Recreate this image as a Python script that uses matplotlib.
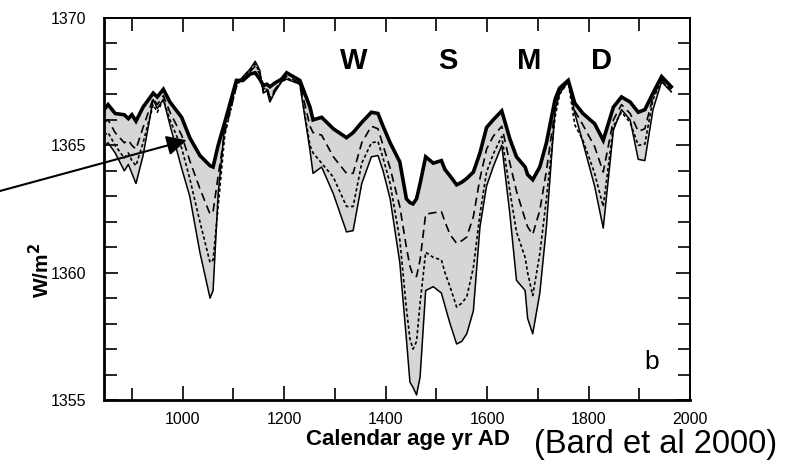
import matplotlib
matplotlib.use("Agg")
import matplotlib.pyplot as plt
from matplotlib.ticker import MultipleLocator

plt.rcParams['font.family'] = ['Liberation Sans', 'DejaVu Sans']

# calendar years (AD) where the reconstructed curves have corners
years = [845, 853, 867, 885, 893, 900, 908, 922, 942, 950, 962, 975, 998, 1014,
         1034, 1054, 1060, 1070, 1083, 1106, 1119, 1133, 1143, 1152, 1159, 1166,
         1172, 1182, 1195, 1205, 1231, 1251, 1257, 1274, 1297, 1323, 1336, 1353,
         1372, 1385, 1395, 1409, 1428, 1441, 1448, 1454, 1461, 1468, 1479, 1494,
         1510, 1517, 1527, 1540, 1550, 1560, 1573, 1586, 1599, 1612, 1629, 1645,
         1658, 1675, 1680, 1690, 1704, 1717, 1734, 1743, 1760, 1773, 1789, 1812,
         1829, 1849, 1865, 1882, 1898, 1911, 1927, 1944, 1963]

# upper (thick) curve, W/m2
upper = [1366.4, 1366.6, 1366.25, 1366.2, 1366.05, 1366.2, 1365.95, 1366.5, 1367.05,
         1366.9, 1367.2, 1366.7, 1366.1, 1365.3, 1364.6, 1364.2, 1364.15, 1365.0,
         1365.9, 1367.55, 1367.55, 1367.8, 1367.85, 1367.6, 1367.35, 1367.4, 1367.3,
         1367.45, 1367.6, 1367.85, 1367.55, 1366.5, 1366.0, 1366.1, 1365.65, 1365.3,
         1365.5, 1365.9, 1366.3, 1366.25, 1365.75, 1365.1, 1364.35, 1362.9, 1362.75,
         1362.7, 1362.9, 1363.5, 1364.55, 1364.3, 1364.4, 1364.05, 1363.8, 1363.45,
         1363.55, 1363.7, 1363.95, 1364.7, 1365.7, 1366.0, 1366.35, 1365.25, 1364.55,
         1364.15, 1363.85, 1363.65, 1364.15, 1365.1, 1366.8, 1367.25, 1367.55, 1366.65,
         1366.25, 1365.85, 1365.2, 1366.5, 1366.9, 1366.7, 1366.3, 1366.4, 1367.05,
         1367.7, 1367.3]

# long-dashed curve
dashed = [1365.9, 1366.0, 1365.5, 1365.1, 1365.2, 1365.0, 1364.85, 1365.7, 1366.85,
          1366.6, 1366.95, 1366.3, 1365.4, 1364.4, 1363.3, 1362.3, 1362.4, 1363.8,
          1365.5, 1367.3, 1367.6, 1367.9, 1368.1, 1367.8, 1367.2, 1367.3, 1366.9,
          1367.2, 1367.55, 1367.7, 1367.45, 1365.75, 1365.5, 1365.4, 1364.55, 1363.9,
          1363.9, 1365.1, 1365.75, 1365.65, 1365.0, 1364.1, 1362.6, 1361.0, 1360.25,
          1359.9, 1359.85, 1360.5, 1362.3, 1362.35, 1362.4, 1362.0, 1361.5, 1361.15,
          1361.25, 1361.4, 1362.2, 1363.7, 1364.85, 1365.35, 1365.75, 1364.3, 1363.2,
          1362.1, 1361.8, 1361.5, 1362.45, 1364.0, 1366.4, 1367.1, 1367.5, 1366.35,
          1365.8, 1364.95, 1363.95, 1366.0, 1366.6, 1366.25, 1365.55, 1365.65, 1366.9,
          1367.6, 1367.2]

# short-dashed (dotted) curve
dotted = [1365.4, 1365.5, 1365.0, 1364.5, 1364.7, 1364.4, 1364.2, 1365.1, 1366.6,
          1366.3, 1366.8, 1366.0, 1364.9, 1363.7, 1362.0, 1360.4, 1360.5, 1362.6,
          1365.4, 1367.35, 1367.65, 1367.95, 1368.2, 1367.85, 1367.1, 1367.2, 1366.8,
          1367.15, 1367.5, 1367.65, 1367.4, 1365.0, 1364.7, 1364.3, 1363.75, 1362.6,
          1362.6, 1364.3, 1365.1, 1365.15, 1364.5, 1363.5, 1361.3, 1358.6, 1357.4,
          1357.0, 1357.3, 1358.8, 1360.8, 1360.6, 1360.5, 1360.0, 1359.45, 1358.65,
          1358.8, 1359.05, 1360.2, 1362.3, 1363.95, 1364.65, 1365.35, 1363.2, 1361.6,
          1360.6, 1360.0, 1359.1, 1360.75, 1362.9, 1366.1, 1367.0, 1367.5, 1365.8,
          1365.2, 1363.9, 1362.6, 1365.75, 1366.3, 1365.9, 1365.0, 1365.05, 1366.8,
          1367.55, 1367.1]

# lower (thin solid) envelope
lower = [1364.95, 1365.1, 1364.7, 1364.0, 1364.25, 1363.9, 1363.5, 1364.6, 1366.8,
         1366.45, 1366.8, 1365.8, 1364.1, 1363.0, 1360.8, 1359.0, 1359.3, 1363.1,
         1365.8, 1367.4, 1367.7, 1368.0, 1368.3, 1367.95, 1367.05, 1367.15, 1366.7,
         1367.1, 1367.5, 1367.6, 1367.4, 1364.8, 1363.9, 1364.15, 1363.1, 1361.6,
         1361.65, 1363.5, 1364.55, 1364.6, 1364.0, 1362.9, 1360.4, 1357.4, 1355.7,
         1355.5, 1355.2, 1355.9, 1359.3, 1359.45, 1359.2, 1358.7, 1358.0, 1357.2,
         1357.3, 1357.6, 1358.5, 1361.8, 1363.4, 1364.15, 1365.0, 1362.3, 1359.7,
         1359.3, 1358.2, 1357.6, 1359.2, 1361.8, 1366.4, 1367.05, 1367.5, 1366.25,
         1365.1, 1363.4, 1361.75, 1365.6, 1366.4, 1366.0, 1364.45, 1364.4, 1366.4,
         1367.5, 1367.1]

period_labels = ['W', 'S', 'M', 'D']
period_years = [1338, 1523, 1684, 1826]

fig = plt.figure(figsize=(7.96, 4.75), dpi=100)
ax = fig.add_axes([104 / 796, 75 / 475, 586 / 796, 382 / 475])

ax.fill_between(years, lower, upper, color='#d6d6d6', lw=0)
ax.plot(years, lower, color='black', lw=1.1)
ax.plot(years, dotted, color='black', lw=1.2, linestyle=(0, (2, 1.5)))
ax.plot(years, dashed, color='black', lw=1.2, linestyle=(0, (5, 3)))
ax.plot(years, upper, color='black', lw=2.6, solid_joinstyle='miter')

ax.set_xlim(845, 2000)
ax.set_ylim(1355, 1370)
ax.xaxis.set_major_locator(MultipleLocator(200))
ax.xaxis.set_minor_locator(MultipleLocator(100))
ax.yaxis.set_major_locator(MultipleLocator(5))
ax.yaxis.set_minor_locator(MultipleLocator(1))
ax.tick_params(which='both', direction='in', top=True, right=True, width=1.2,
               labelsize=11.5, color='black')
ax.tick_params(which='major', length=10, pad=9)
ax.tick_params(which='minor', length=9)
ax.tick_params(axis='y', which='major', pad=13)
for side in ['left', 'bottom']:
    ax.spines[side].set_linewidth(2)
for side in ['top', 'right']:
    ax.spines[side].set_linewidth(1.4)

# axis titles placed by hand, as in the scanned figure
fig.text(408 / 796, 1 - 440 / 475, 'Calendar age yr AD', fontsize=16,
         fontweight='bold', ha='center', va='center')
fig.text(41 / 796, 1 - 270 / 475, 'W/m$^\\mathbf{2}$', fontsize=15,
         fontweight='bold', rotation=90, ha='center', va='center')

for lab, yr in zip(period_labels, period_years):
    ax.text(yr, 1368.3, lab, fontsize=21, fontweight='bold', ha='center', va='center')
ax.text(1925, 1356.5, 'b', fontsize=19, ha='center', va='center')

fig.text(656 / 796, 1 - 445 / 475, '(Bard et al 2000)', fontsize=23.5,
         ha='center', va='center')

# arrow from the left margin to the upper curve
ax.annotate('', xy=(1008, 1365.2), xycoords='data',
            xytext=(0, 475 - 191), textcoords='figure pixels',
            arrowprops=dict(arrowstyle='-|>', color='black', lw=1.5,
                            mutation_scale=30, shrinkA=0, shrinkB=0),
            annotation_clip=False)

fig.savefig('out.png', dpi=100)
